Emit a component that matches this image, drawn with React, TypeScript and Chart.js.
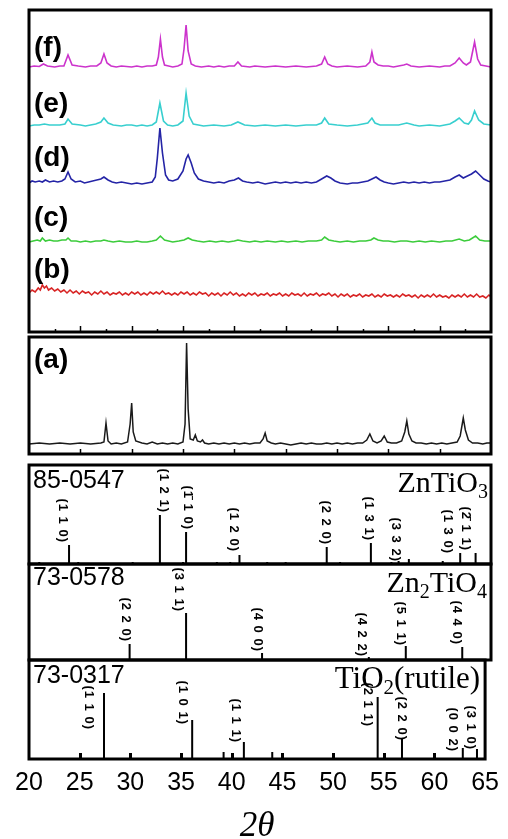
import React, { useEffect, useRef } from "react";
import { Chart, registerables } from "chart.js";

Chart.register(...registerables);

const SANS = '"Liberation Sans", Arial, sans-serif';
const SERIF = '"Liberation Serif", "Times New Roman", serif';

const X_MIN = 20;
const X_MAX = 65;
const X_TICKS = [20, 25, 30, 35, 40, 45, 50, 55, 60, 65];
const X_MINOR = [22.5, 27.5, 32.5, 37.5, 42.5, 47.5, 52.5, 57.5, 62.5];

// ---- measured patterns (2θ, relative intensity) ----
const traceF: [number, number][] = [
  [20, 0], [20.5, 1], [21, 0.5], [21.4, 3], [21.8, 1], [22.5, 0], [23, 1], [23.4, 1], [23.8, 12], [24.2, 2],
  [24.8, 1], [25.5, 0], [26, 1], [26.6, 1], [27, 4], [27.3, 13], [27.6, 4], [28, 1], [28.5, 0], [29, 1],
  [30, 0], [30.5, 1], [31, 0], [31.5, 1], [32, 1], [32.4, 2], [32.6, 10], [32.8, 28], [33.0, 10], [33.2, 2],
  [33.6, 1], [34, 0], [34.5, 1], [34.9, 3], [35.1, 18], [35.3, 42], [35.5, 16], [35.8, 3], [36.2, 1], [36.8, 0],
  [37.5, 1], [38, 0], [38.5, 1], [39, 0], [39.5, 1], [40, 1], [40.35, 5], [40.7, 1], [41.5, 0], [42, 1],
  [43, 0], [44, 1], [45, 0], [46, 1], [47, 0], [48, 1], [48.5, 3], [48.8, 10], [49.1, 3], [49.5, 1],
  [50, 0], [51, 1], [52, 0], [52.8, 1], [53.2, 5], [53.4, 15], [53.6, 5], [54, 2], [54.5, 1], [55, 1],
  [55.5, 0], [56, 1], [56.5, 2], [56.8, 3], [57.2, 1], [58, 0], [59, 1], [60, 0], [60.5, 1], [61, 1],
  [61.5, 4], [61.9, 9], [62.3, 4], [62.6, 2], [63, 5], [63.4, 25], [63.7, 8], [64, 2], [64.5, 1], [65, 0],
];

const traceE: [number, number][] = [
  [20, 0], [20.5, 1], [21, 1], [21.5, 2], [22, 1], [22.5, 1], [23, 1], [23.5, 2], [23.8, 7], [24.2, 2],
  [25, 1], [25.5, 0], [26, 1], [26.5, 2], [27, 4], [27.3, 8], [27.7, 3], [28.2, 1], [29, 0], [29.5, 1],
  [30, 1], [30.5, 0], [31, 1], [31.5, 0], [32, 1], [32.4, 4], [32.75, 23], [33.1, 5], [33.5, 1], [34, 0],
  [34.5, 1], [35, 5], [35.3, 33], [35.6, 10], [36, 2], [36.5, 1], [37, 0], [38, 1], [39, 0], [39.7, 1],
  [40.35, 4], [41, 1], [42, 0], [43, 1], [44, 0], [45, 1], [46, 0], [47, 1], [48, 1], [48.5, 3],
  [48.8, 8], [49.2, 2], [50, 1], [51, 0], [52, 1], [53, 3], [53.4, 8], [53.7, 3], [54.2, 1], [55, 1],
  [56, 1], [56.8, 3], [57.5, 1], [58, 0], [59, 1], [60, 0], [61, 2], [61.5, 5], [61.9, 8], [62.4, 3],
  [62.8, 2], [63.1, 6], [63.4, 15], [63.8, 6], [64.3, 2], [65, 1],
];

const traceD: [number, number][] = [
  [20, 0], [20.3, 2], [20.6, 1], [21, 2], [21.3, 1], [21.6, 3], [22, 1], [22.4, 2], [22.8, 1], [23.2, 2],
  [23.5, 4], [23.8, 11], [24.1, 4], [24.5, 1], [25, 2], [25.4, 0], [25.8, 1], [26.2, 2], [26.6, 3], [27, 4],
  [27.3, 6], [27.7, 3], [28.1, 1], [28.5, 0], [29, 1], [29.5, 0], [30, -1], [30.5, 0], [31, -1], [31.5, 0],
  [32, 1], [32.3, 6], [32.5, 25], [32.75, 55], [33.0, 30], [33.3, 8], [33.6, 3], [34, 2], [34.5, 4], [35, 12],
  [35.3, 24], [35.5, 28], [35.8, 20], [36.1, 10], [36.5, 4], [37, 2], [37.5, 1], [38, 0], [38.5, 1], [39, 0],
  [39.5, 2], [40, 3], [40.4, 5], [40.8, 2], [41.2, 1], [41.8, 0], [42.3, 1], [43, -1], [43.5, 0], [44, 1],
  [44.5, 0], [45, 1], [45.5, 0], [46, 1], [46.5, 0], [47, 1], [47.5, 0], [48, 1], [48.5, 4], [49, 7],
  [49.4, 5], [49.8, 2], [50.3, 0], [51, -1], [51.5, 0], [52, 0], [52.5, 1], [53, 2], [53.4, 4], [53.8, 6],
  [54.2, 3], [54.6, 1], [55, 0], [55.5, -1], [56, 0], [56.5, 1], [57, 0], [57.5, 1], [58, 0], [58.5, 1],
  [59, 0], [59.5, 1], [60, 1], [60.5, 2], [61, 3], [61.5, 6], [61.9, 8], [62.3, 5], [62.7, 7], [63.1, 9],
  [63.5, 12], [63.9, 8], [64.3, 4], [64.7, 2], [65, 1],
];

const traceC: [number, number][] = [
  [20, 0], [20.4, 1], [20.8, 2], [21.1, 1], [21.3, 4], [21.6, 1], [22, 2], [22.4, 1], [22.8, 1], [23.2, 2],
  [23.6, 2], [23.8, 4], [24.1, 1], [24.6, 1], [25, 0], [25.5, 1], [26, 0], [26.5, 1], [27, 1], [27.3, 2],
  [27.7, 1], [28.2, 0], [28.8, 1], [29.4, 0], [30, 0], [30.5, 1], [31, 0], [31.5, 0], [32, 1], [32.4, 2],
  [32.8, 6], [33.2, 2], [33.6, 1], [34, 0], [34.6, 1], [35.1, 2], [35.5, 4], [35.9, 2], [36.4, 1], [37, 0],
  [37.6, 1], [38.2, 0], [38.8, 1], [39.4, 0], [40, 1], [40.35, 2], [40.8, 1], [41.5, 0], [42, 1], [42.6, 0],
  [43.2, 1], [44, 0], [44.6, 1], [45.2, 0], [46, 1], [46.6, 0], [47.2, 1], [48, 1], [48.5, 2], [48.8, 5],
  [49.2, 2], [49.7, 1], [50.3, 0], [51, 1], [51.6, 0], [52.2, 1], [52.8, 1], [53.3, 2], [53.6, 4], [54, 2],
  [54.5, 1], [55, 1], [55.6, 0], [56.2, 1], [56.8, 1], [57.4, 0], [58, 1], [58.6, 0], [59.2, 1], [60, 0],
  [60.6, 1], [61.2, 1], [61.9, 3], [62.4, 1], [62.9, 2], [63.5, 6], [63.9, 2], [64.4, 1], [65, 1],
];

const traceB: [number, number][] = [
  [20, 3], [20.3, 6], [20.6, 4], [20.9, 8], [21.1, 6], [21.3, 11], [21.5, 8], [21.7, 10], [21.9, 6], [22.2, 8],
  [22.5, 5], [22.8, 7], [23.1, 4], [23.4, 6], [23.7, 3], [24, 6], [24.3, 3], [24.6, 5], [24.9, 2], [25.2, 5],
  [25.5, 3], [25.8, 4], [26.1, 1], [26.4, 4], [26.7, 2], [27, 5], [27.3, 2], [27.6, 4], [27.9, 1], [28.2, 3],
  [28.5, 2], [28.8, 4], [29.1, 1], [29.4, 3], [29.7, 1], [30, 4], [30.3, 2], [30.6, 4], [30.9, 1], [31.2, 3],
  [31.5, 1], [31.8, 4], [32.1, 2], [32.4, 4], [32.7, 2], [33, 5], [33.3, 2], [33.6, 3], [33.9, 1], [34.2, 3],
  [34.5, 1], [34.8, 4], [35.1, 2], [35.4, 4], [35.7, 1], [36, 3], [36.3, 1], [36.6, 4], [36.9, 2], [37.2, 3],
  [37.5, 0], [37.8, 3], [38.1, 1], [38.4, 3], [38.7, 0], [39, 3], [39.3, 1], [39.6, 4], [39.9, 1], [40.2, 3],
  [40.5, 0], [40.8, 2], [41.1, 0], [41.4, 3], [41.7, 1], [42, 3], [42.3, 0], [42.6, 2], [42.9, 1], [43.2, 3],
  [43.5, 0], [43.8, 2], [44.1, 1], [44.4, 3], [44.7, 0], [45, 2], [45.3, 0], [45.6, 3], [45.9, 1], [46.2, 2],
  [46.5, 0], [46.8, 3], [47.1, 0], [47.4, 2], [47.7, 1], [48, 3], [48.3, 0], [48.6, 2], [48.9, 1], [49.2, 3],
  [49.5, 0], [49.8, 2], [50.1, -1], [50.4, 2], [50.7, 0], [51, 2], [51.3, -1], [51.6, 1], [51.9, 0], [52.2, 2],
  [52.5, -1], [52.8, 1], [53.1, 0], [53.4, 2], [53.7, -1], [54, 1], [54.3, -1], [54.6, 2], [54.9, 0], [55.2, 1],
  [55.5, -1], [55.8, 1], [56.1, -1], [56.4, 2], [56.7, 0], [57, 1], [57.3, -1], [57.6, 1], [57.9, -2], [58.2, 1],
  [58.5, -1], [58.8, 1], [59.1, -1], [59.4, 2], [59.7, -1], [60, 1], [60.3, -1], [60.6, 0], [60.9, -2], [61.2, 1],
  [61.5, -1], [61.8, 1], [62.1, -1], [62.4, 2], [62.7, -1], [63, 1], [63.3, -1], [63.6, 2], [63.9, -1], [64.2, 0],
  [64.5, -2], [64.8, 1], [65, -1],
];

const traceA: [number, number][] = [
  [20, 0], [21, 1], [22, 0], [23, 1], [24, 0], [25, 1], [26, 0], [27, 1], [27.3, 2], [27.5, 21],
  [27.7, 3], [28, 0], [28.5, 1], [29, 0], [29.6, 2], [29.85, 20], [30.0, 41], [30.15, 12], [30.4, 3], [31, 1],
  [31.5, 0], [32, 2], [32.5, 0], [33, 1], [33.5, 0], [34, 1], [34.5, 0], [35, 2], [35.2, 20], [35.35, 101],
  [35.5, 35], [35.7, 5], [36.0, 4], [36.2, 9], [36.4, 3], [36.7, 2], [36.9, 4], [37.1, 1], [37.5, 0], [38, 1],
  [38.5, 0], [39, 1], [39.5, 0], [40, 1], [40.5, 0], [41, 1], [41.5, 0], [42, 1], [42.5, 1], [42.8, 5],
  [43.0, 11], [43.2, 3], [43.6, 1], [44, 0], [44.5, 1], [45, 0], [45.5, -1], [46, 0], [46.5, 1], [47, 0],
  [47.5, 1], [48, 0], [48.5, 0], [49, 1], [49.5, 0], [50, 1], [50.5, 0], [51, 1], [51.5, 0], [52, 1],
  [52.5, 1], [52.9, 4], [53.2, 10], [53.5, 3], [53.9, 1], [54.3, 3], [54.6, 8], [54.9, 2], [55.3, 1], [55.8, 1],
  [56.3, 3], [56.6, 12], [56.8, 23], [57.0, 10], [57.3, 3], [57.7, 1], [58.2, 1], [58.7, 0], [59.2, 1], [59.7, 0],
  [60.2, 1], [60.7, 0], [61.2, 1], [61.7, 2], [62.0, 8], [62.3, 26], [62.5, 14], [62.8, 4], [63.2, 1], [63.7, 1],
  [64.2, 0], [64.6, 1], [65, 1],
];

// ---- reference stick patterns ----
const znTiO3Pos = [21.0, 23.9, 24.8, 30.1, 32.75, 35.0, 35.3, 38.3, 39.6, 40.5, 43.2, 45.0, 49.0, 50.3, 53.3, 55.3, 56.0, 57.0, 60.3, 62.0, 63.5];
const znTiO3Int = [2, 19, 2, 2, 49, 2, 32, 2, 2, 9, 2, 2, 17, 2, 21, 2, 3, 5, 3, 11, 11];
const znTiO3Hkl = ["(1 1 0)", "(1 2 1)", "(1\u0304 1 0)", "(1 2 0)", "(2 2 0)", "(1 3 1)", "(3 3 2)", "(1 3 0)", "(2\u0304 1 1)"];
const znTiO3HklAt = [23.3, 33.1, 35.4, 39.9, 48.85, 53.1, 55.75, 60.75, 62.55];
const znTiO3HklY = [21, 51, 34, 12, 19, 23, 2, 10, 13];

const zn2TiO4Pos = [29.8, 35.3, 42.7, 53.1, 56.7, 62.2];
const zn2TiO4Int = [16, 47, 7, 3, 14, 13];
const zn2TiO4Hkl = ["(2 2 0)", "(3 1 1)", "(4 0 0)", "(4 2 2)", "(5 1 1)", "(4 4 0)"];
const zn2TiO4HklAt = [29.4, 34.6, 42.3, 52.4, 56.2, 61.6];
const zn2TiO4HklY = [18, 48, 8, 3, 14, 15];

const tio2Pos = [27.4, 36.1, 39.2, 41.2, 44.0, 54.4, 56.8, 62.8, 64.2];
const tio2Int = [66, 39, 7, 17, 7, 62, 21, 11, 10];
const tio2Hkl = ["(1 1 0)", "(1 0 1)", "(1 1 1)", "(2 1 1)", "(2 2 0)", "(0 0 2)", "(3 1 0)"];
const tio2HklAt = [25.9, 35.2, 40.4, 53.4, 56.8, 61.8, 63.6];
const tio2HklY = [29, 34, 16, 32, 18, 7, 9];

const TOP_SERIES = [
  { name: "(f)", data: traceF, offset: 265, color: "#cc33cc" },
  { name: "(e)", data: traceE, offset: 206, color: "#38cfcf" },
  { name: "(d)", data: traceD, offset: 149, color: "#2424a6" },
  { name: "(c)", data: traceC, offset: 90, color: "#3ccc3c" },
  { name: "(b)", data: traceB, offset: 36, color: "#d82424" },
];

type Part = { t: string; sub?: boolean };
type Decor = {
  ticks: "top" | "a" | "bottom" | "none";
  letters?: { t: string; dx: number; dy: number }[];
  code?: { t: string; dx: number; dy: number };
  formula?: { parts: Part[]; dxr: number; dy: number; size: number };
  hkl?: { t: string; x: number; y: number }[];
};

function drawRich(ctx: CanvasRenderingContext2D, parts: Part[], xRight: number, yBase: number, size: number) {
  const sub = Math.round(size * 0.68);
  const widths = parts.map((p) => {
    ctx.font = `${p.sub ? sub : size}px ${SERIF}`;
    return ctx.measureText(p.t).width;
  });
  let x = xRight - widths.reduce((a, b) => a + b, 0);
  ctx.textAlign = "left";
  ctx.textBaseline = "alphabetic";
  parts.forEach((p, i) => {
    ctx.font = `${p.sub ? sub : size}px ${SERIF}`;
    ctx.fillText(p.t, x, yBase + (p.sub ? size * 0.2 : 0));
    x += widths[i];
  });
}

function decorPlugin(o: Decor) {
  return {
    id: "decor",
    afterDraw(chart: any) {
      const { ctx, chartArea: a, scales } = chart;
      const xs = scales.x;
      const ys = scales.y;
      ctx.save();
      ctx.strokeStyle = "#000";
      ctx.fillStyle = "#000";
      const tick = (v: number, len: number, w: number) => {
        const px = Math.round(xs.getPixelForValue(v)) + 0.5;
        ctx.lineWidth = w;
        ctx.beginPath();
        ctx.moveTo(px, a.bottom);
        ctx.lineTo(px, a.bottom - len);
        ctx.stroke();
      };
      if (o.ticks === "top") {
        X_TICKS.slice(1, -1).forEach((v) => tick(v, 6, 1.5));
        X_MINOR.forEach((v) => tick(v, 3, 1.5));
      } else if (o.ticks === "a") {
        X_TICKS.slice(1, -1).forEach((v) => tick(v, 5, 1.5));
      } else if (o.ticks === "bottom") {
        X_TICKS.slice(1, -1).forEach((v) => tick(v, 6, 3));
      }
      ctx.lineWidth = 3;
      ctx.strokeRect(a.left, a.top, a.right - a.left, a.bottom - a.top);
      (o.letters || []).forEach((l) => {
        ctx.font = `bold 28px ${SANS}`;
        ctx.textAlign = "left";
        ctx.textBaseline = "middle";
        ctx.fillText(l.t, a.left + l.dx, a.top + l.dy);
      });
      if (o.code) {
        ctx.font = `25px ${SANS}`;
        ctx.textAlign = "left";
        ctx.textBaseline = "alphabetic";
        ctx.fillText(o.code.t, a.left + o.code.dx, a.top + o.code.dy);
      }
      if (o.formula) {
        drawRich(ctx, o.formula.parts, a.right + o.formula.dxr, a.top + o.formula.dy, o.formula.size);
      }
      (o.hkl || []).forEach((h) => {
        ctx.save();
        ctx.translate(xs.getPixelForValue(h.x), ys.getPixelForValue(h.y));
        ctx.rotate(Math.PI / 2);
        ctx.font = `bold 13px ${SANS}`;
        try {
          (ctx as any).letterSpacing = "1px";
        } catch (e) {}
        ctx.textAlign = "right";
        ctx.textBaseline = "middle";
        ctx.fillText(h.t, 0, 0);
        ctx.restore();
      });
      ctx.restore();
    },
  };
}

function baseOptions(yMax: number, padTop: number, padBottom: number, xOpts: any = {}) {
  return {
    responsive: false,
    maintainAspectRatio: false,
    animation: false,
    devicePixelRatio: 1,
    events: [],
    layout: { padding: { left: 29, right: 17, top: padTop, bottom: padBottom } },
    plugins: { legend: { display: false }, tooltip: { enabled: false }, title: { display: false } },
    scales: {
      x: { type: "linear", min: X_MIN, max: X_MAX, display: false, offset: false, ...xOpts },
      y: { type: "linear", min: 0, max: yMax, display: false },
    },
  };
}

const lineDs = (pts: [number, number][], offset: number, color: string, label: string, width = 1.6) => ({
  type: "line",
  label,
  data: pts.map(([x, y]) => ({ x, y: y + offset })),
  borderColor: color,
  borderWidth: width,
  pointRadius: 0,
  tension: 0,
  fill: false,
});

const stickDs = (pos: number[], ints: number[], label: string) => {
  const data: { x: number; y: number | null }[] = [];
  pos.forEach((p, i) => {
    data.push({ x: p, y: 0 }, { x: p, y: ints[i] }, { x: p, y: null });
  });
  return { type: "line", label, data, borderColor: "#000", borderWidth: 2, pointRadius: 0, tension: 0, spanGaps: false };
};

const hklList = (txt: string[], at: number[], ys: number[]) => txt.map((t, i) => ({ t, x: at[i], y: ys[i] }));

const topConfig = () => ({
  type: "line",
  data: { datasets: TOP_SERIES.map((s) => lineDs(s.data, s.offset, s.color, s.name)) },
  options: baseOptions(322, 5, 5),
  plugins: [
    decorPlugin({
      ticks: "top",
      letters: [
        { t: "(f)", dx: 5, dy: 38 },
        { t: "(e)", dx: 5, dy: 94 },
        { t: "(d)", dx: 5, dy: 148 },
        { t: "(c)", dx: 5, dy: 208 },
        { t: "(b)", dx: 5, dy: 260 },
      ],
    }),
  ],
});

const aConfig = () => ({
  type: "line",
  data: { datasets: [lineDs(traceA, 10, "#1a1a1a", "(a)", 1.5)] },
  options: baseOptions(117, 4, 5),
  plugins: [decorPlugin({ ticks: "a", letters: [{ t: "(a)", dx: 5, dy: 23 }] })],
});

const znTiO3Config = () => ({
  type: "line",
  data: { datasets: [stickDs(znTiO3Pos, znTiO3Int, "ZnTiO3")] },
  options: baseOptions(99, 5, 5),
  plugins: [
    decorPlugin({
      ticks: "none",
      code: { t: "85-0547", dx: 4, dy: 23 },
      formula: { parts: [{ t: "ZnTiO" }, { t: "3", sub: true }], dxr: -3, dy: 27, size: 30 },
      hkl: hklList(znTiO3Hkl, znTiO3HklAt, znTiO3HklY),
    }),
  ],
});

const zn2TiO4Config = () => ({
  type: "line",
  data: { datasets: [stickDs(zn2TiO4Pos, zn2TiO4Int, "Zn2TiO4")] },
  options: baseOptions(96, 5, 5),
  plugins: [
    decorPlugin({
      ticks: "none",
      code: { t: "73-0578", dx: 4, dy: 21 },
      formula: { parts: [{ t: "Zn" }, { t: "2", sub: true }, { t: "TiO" }, { t: "4", sub: true }], dxr: -4, dy: 28, size: 30 },
      hkl: hklList(zn2TiO4Hkl, zn2TiO4HklAt, zn2TiO4HklY),
    }),
  ],
});

const tio2Config = () => ({
  type: "line",
  data: { datasets: [stickDs(tio2Pos, tio2Int, "TiO2(rutile)")] },
  options: baseOptions(99, 5, 0, {
    display: true,
    position: "bottom",
    afterBuildTicks: (s: any) => {
      s.ticks = X_TICKS.map((v) => ({ value: v }));
    },
    afterFit: (s: any) => {
      s.height = 80;
    },
    grid: { display: false, drawTicks: false },
    border: { display: false },
    ticks: {
      autoSkip: false,
      maxRotation: 0,
      minRotation: 0,
      padding: 9,
      color: "#000",
      font: { family: SANS, size: 25 },
    },
    title: {
      display: true,
      text: "2θ",
      color: "#000",
      padding: 0,
      font: { family: SERIF, size: 35, style: "italic", lineHeight: 0.7 },
    },
  }),
  plugins: [
    decorPlugin({
      ticks: "bottom",
      code: { t: "73-0317", dx: 4, dy: 23 },
      formula: { parts: [{ t: "TiO" }, { t: "2", sub: true }, { t: "(rutile)" }], dxr: -5, dy: 28, size: 31 },
      hkl: hklList(tio2Hkl, tio2HklAt, tio2HklY),
    }),
  ],
});

function Panel({ top, height, config }: { top: number; height: number; config: () => any }) {
  const ref = useRef<HTMLCanvasElement | null>(null);
  useEffect(() => {
    if (!ref.current) return;
    const chart = new Chart(ref.current, config());
    return () => chart.destroy();
  }, []);
  return (
    <canvas
      ref={ref}
      width={508}
      height={height}
      style={{ position: "absolute", left: 0, top, width: 508, height, display: "block" }}
    />
  );
}

export default function App() {
  return (
    <div style={{ position: "absolute", left: 0, top: 0, width: 508, height: 839, overflow: "hidden", background: "#fff" }}>
      <Panel top={5} height={332} config={topConfig} />
      <Panel top={333} height={126} config={aConfig} />
      <Panel top={460} height={109} config={znTiO3Config} />
      <Panel top={559} height={106} config={zn2TiO4Config} />
      <Panel top={655} height={184} config={tio2Config} />
    </div>
  );
}
